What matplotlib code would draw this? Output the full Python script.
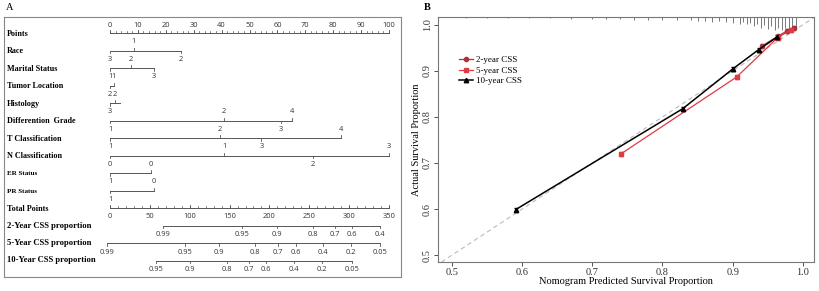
import matplotlib.pyplot as plt
from matplotlib.lines import Line2D
import numpy as np

# ---- panel A: nomogram ----
row_names = ["Race", "Marital Status", "Tumor Location", "Histology",
             "Differention  Grade", "T Classification", "N Classification",
             "ER Status", "PR Status"]
row_ends = [25.4, 15.8, 1.4, 3.6, 65.2, 82.8, 100, 14.7, 15.8]
row_above = [[(8.6, "1")], [(7.5, "2")], [(1.4, "1")], [(1.8, "2")],
             [(40.9, "2"), (65.2, "4")], [(39.4, "2"), (82.8, "4")],
             [(40.9, "1"), (100, "3")], [(14.7, "0")], [(15.8, "0")]]
row_below = [[(0, "3"), (25.4, "2")], [(0, "1"), (15.8, "3")], [(0, "2")],
             [(0, "3")], [(0, "1"), (61.3, "3")], [(0, "1"), (54.3, "3")],
             [(0, "0"), (72.8, "2")], [(0, "1")], [(0, "1")]]

points_major = [0, 10, 20, 30, 40, 50, 60, 70, 80, 90, 100]
total_major = [0, 50, 100, 150, 200, 250, 300, 350]

css_names = ["2-Year CSS proportion", "5-Year CSS proportion", "10-Year CSS proportion"]
css_tp = [[66.5, 165.6, 209.5, 254.7, 282.3, 303.6, 338.7],
          [-3.8, 94.1, 136.7, 181.9, 210.8, 233.3, 267.2, 302.3, 338.7],
          [57.7, 100.4, 146.8, 174.4, 195.7, 230.8, 265.9, 303.6]]
css_labels = [["0.99", "0.95", "0.9", "0.8", "0.7", "0.6", "0.4"],
              ["0.99", "0.95", "0.9", "0.8", "0.7", "0.6", "0.4", "0.2", "0.05"],
              ["0.95", "0.9", "0.8", "0.7", "0.6", "0.4", "0.2", "0.05"]]

# ---- panel B: calibration ----
x2 = [0.942, 0.964, 0.978, 0.988]
y2 = [0.954, 0.975, 0.987, 0.993]
x5 = [0.741, 0.906, 0.964, 0.983]
y5 = [0.720, 0.887, 0.972, 0.989]
x10 = [0.591, 0.829, 0.900, 0.937, 0.963]
y10 = [0.599, 0.818, 0.904, 0.946, 0.973]
err = 0.004

rug_x = [0.52, 0.55, 0.58, 0.61, 0.64, 0.67, 0.70, 0.72, 0.74, 0.76, 0.78,
         0.80, 0.82, 0.84, 0.85, 0.86, 0.87, 0.88, 0.89, 0.90, 0.91, 0.915,
         0.92, 0.925, 0.93, 0.935, 0.94, 0.945, 0.95, 0.955, 0.96, 0.965,
         0.97, 0.975, 0.98, 0.985, 0.99]
rug_h = [0.1, 0.1, 0.1, 0.1, 0.1, 0.15, 0.15, 0.15, 0.15, 0.2, 0.2,
         0.2, 0.25, 0.25, 0.3, 0.3, 0.35, 0.3, 0.4, 0.45, 0.5, 0.4,
         0.55, 0.45, 0.7, 0.5, 0.8, 0.6, 0.9, 0.7, 1.0, 0.8,
         0.95, 0.85, 1.0, 0.9, 0.75]

W, H = 819, 291
fig = plt.figure(figsize=(W / 100, H / 100), dpi=100)

serif = "Liberation Serif"
sans = "Open Sans"
lc = "#555555"

# panel A
axA = fig.add_axes([4 / W, 1 - 277 / H, 397 / W, 260 / H])
axA.set_xlim((4 - 110) / 2.79, (401 - 110) / 2.79)
axA.set_ylim((277 - 33) / 17.5, (17 - 33) / 17.5)
axA.set_xticks([])
axA.set_yticks([])
for s in axA.spines.values():
    s.set_color("#888888")
    s.set_linewidth(0.8)

lab_x = (7 - 110) / 2.79
tk = 0.17
num_kw = dict(fontsize=5.4, family=sans, color="#333333", ha="center", va="center")
name_kw = dict(family=serif, fontweight="bold", va="center", ha="left")

# Points row
axA.text(lab_x, 0.05, "Points", fontsize=5.9, **name_kw)
axA.plot([0, 100], [0, 0], color=lc, lw=0.7)
for p in np.arange(0, 101, 2):
    axA.plot([p, p], [0, -tk * 0.6], color=lc, lw=0.5)
for p in points_major:
    axA.plot([p, p], [0, -tk], color=lc, lw=0.6)
    axA.text(p, -0.45, str(p), **num_kw)

# variable rows
for i, name in enumerate(row_names):
    y = i + 1
    fs = 5.0 if name in ("ER Status", "PR Status") else 5.9
    axA.text(lab_x, y + 0.05, name, fontsize=fs, **name_kw)
    axA.plot([0, row_ends[i]], [y, y], color=lc, lw=0.7)
    for v, t in row_above[i]:
        axA.plot([v, v], [y, y - tk], color=lc, lw=0.6)
        axA.text(v, y - 0.5, t, **num_kw)
    for v, t in row_below[i]:
        axA.plot([v, v], [y, y + tk], color=lc, lw=0.6)
        axA.text(v, y + 0.5, t, **num_kw)

# total points row
tp2p = 100 / 350
yt = 10
axA.text(lab_x, yt + 0.05, "Total Points", fontsize=5.9, **name_kw)
axA.plot([0, 100], [yt, yt], color=lc, lw=0.7)
for tpv in np.arange(0, 351, 10):
    axA.plot([tpv * tp2p] * 2, [yt, yt - tk * 0.6], color=lc, lw=0.5)
for tpv in total_major:
    axA.plot([tpv * tp2p] * 2, [yt, yt - tk], color=lc, lw=0.6)
    axA.text(tpv * tp2p, yt + 0.48, str(tpv), **num_kw)

# CSS rows
for j, name in enumerate(css_names):
    y = 11 + j
    axA.text(lab_x, y, name, fontsize=6.2, **name_kw)
    xs = [v * tp2p for v in css_tp[j]]
    axA.plot([xs[0], xs[-1]], [y, y], color=lc, lw=0.7)
    for xv, t in zip(xs, css_labels[j]):
        axA.plot([xv, xv], [y, y + tk], color=lc, lw=0.6)
        axA.text(xv, y + 0.52, t, **num_kw)

fig.text(6 / W, 1 - 7 / H, "A", fontsize=7.5, family=serif, va="center", ha="left")
fig.text(424 / W, 1 - 7 / H, "B", fontsize=7.5, family=serif,
         fontweight="bold", va="center", ha="left")

# panel B
axB = fig.add_axes([438 / W, 1 - 262 / H, 376 / W, 245 / H])
axB.set_xlim(0.48, 1.016)
axB.set_ylim(0.485, 1.017)
axB.axline((0.5, 0.5), slope=1, color="#bbbbbb", lw=0.8, ls=(0, (4, 3)))

axB.vlines(rug_x, [1 - h * 0.055 for h in rug_h], 1,
           transform=axB.get_xaxis_transform(), color="#444444", lw=0.5)

c2 = "#a8323a"
c5 = "#e03a44"
styles = [(x2, y2, c2, "o", 3, 0.9, "2-year CSS"),
          (x5, y5, c5, "s", 2.5, 0.9, "5-year CSS"),
          (x10, y10, "black", "^", 3.2, 1.1, "10-year CSS")]
handles = []
for xs, ys, c, m, ms, lw, lab in styles:
    axB.errorbar(xs, ys, yerr=err, color=c, marker=m, ms=ms, lw=lw,
                 capsize=1.5, elinewidth=0.7)
    handles.append(Line2D([], [], color=c, marker=m, ms=ms, lw=lw, label=lab))

axB.set_xticks([0.5, 0.6, 0.7, 0.8, 0.9, 1.0])
axB.set_yticks([0.5, 0.6, 0.7, 0.8, 0.9, 1.0])
axB.set_xticklabels(["0.5", "0.6", "0.7", "0.8", "0.9", "1.0"],
                    family=serif, fontsize=7.5)
axB.set_yticklabels(["0.5", "0.6", "0.7", "0.8", "0.9", "1.0"],
                    family=serif, fontsize=7.5, rotation=90, va="center")
axB.tick_params(length=3, width=0.6, colors="#333333", pad=1.5)
for s in axB.spines.values():
    s.set_color("#777777")
    s.set_linewidth(0.8)
axB.set_xlabel("Nomogram Predicted Survival Proportion", family=serif,
               fontsize=7.5, labelpad=0)
axB.set_ylabel("Actual Survival Proportion", family=serif, fontsize=7.5,
               labelpad=1)

axB.legend(handles=handles, loc="upper left", bbox_to_anchor=(0.045, 0.86),
           frameon=False, prop={"family": serif, "size": 6.5},
           handlelength=1.5, handletextpad=0.3, labelspacing=0.25, borderpad=0)

fig.savefig("out.png", dpi=100)
